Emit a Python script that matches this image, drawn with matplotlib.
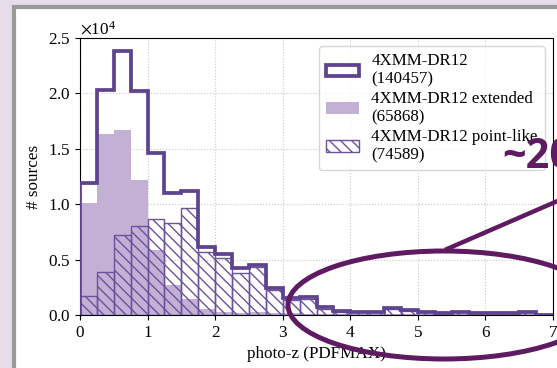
import numpy as np
import matplotlib
matplotlib.use("Agg")
import matplotlib.pyplot as plt
from matplotlib.patches import Ellipse, Rectangle
from matplotlib.lines import Line2D

# photo-z bins (width 0.25) and counts per bin
edges = np.arange(0, 7.01, 0.25)
total = [11900, 20300, 23800, 20200, 14600, 11000, 11200, 6100, 5500, 4200, 4500, 2450, 1550, 1650,
         700, 350, 300, 300, 600, 450, 300, 200, 300, 200, 200, 200, 300, 0]
extended = [10100, 16300, 16700, 12200, 5900, 2750, 1450, 500, 300, 200, 300, 200, 150, 100,
            100, 50, 50, 50, 100, 50, 50, 50, 50, 50, 50, 50, 50, 0]
pointlike = [1700, 3900, 7200, 8000, 8700, 8300, 9700, 5700, 5100, 3800, 4300, 2300, 1350, 1450,
             550, 250, 250, 250, 500, 400, 250, 150, 250, 150, 150, 150, 250, 0]
labels = ['4XMM-DR12\n(140457)', '4XMM-DR12 extended\n(65868)', '4XMM-DR12 point-like\n(74589)']

DARK = '#5e4490'; LIGHT = '#c3b1d5'; HATCH = '#6b529c'; ANNOT = '#5f1b61'

plt.rcParams['font.family'] = ['Liberation Serif', 'DejaVu Serif']
plt.rcParams['mathtext.fontset'] = 'stix'
plt.rcParams['font.size'] = 12.3
plt.rcParams['hatch.linewidth'] = 1.0

W, H = 557, 368
fig = plt.figure(figsize=(W / 100, H / 100), dpi=100, facecolor='#e6dcea')
fig.add_artist(Rectangle((14 / W, -0.2), 1.2, 0.982 + 0.2, transform=fig.transFigure,
                         facecolor='white', edgecolor='#9a9a9a', lw=3, zorder=-5))
ax = fig.add_axes([80 / W, 1 - 315 / H, 473 / W, 277 / H])

centers = (edges[:-1] + edges[1:]) / 2
ax.hist(centers, bins=edges, weights=extended, color=LIGHT, label=labels[1], zorder=2)
ax.hist(centers, bins=edges, weights=pointlike, facecolor='none', edgecolor=HATCH, hatch='\\\\\\',
        lw=1.0, label=labels[2], zorder=3)
ax.hist(centers, bins=edges, weights=total, histtype='step', color=DARK, lw=2.7, label=labels[0], zorder=4)

ax.set_xlim(0, 7); ax.set_ylim(0, 25000)
ax.set_yticks(np.arange(0, 25001, 5000))
ax.ticklabel_format(axis='y', style='sci', scilimits=(0, 0), useMathText=True)
ax.grid(True, ls=':', color='#c8c8c8', lw=0.8)
ax.set_axisbelow(True)
ax.set_xlabel('photo-z (PDFMAX)')
ax.set_ylabel('# sources')

h, l = ax.get_legend_handles_labels()
hd = dict(zip(l, h))
ax.legend([hd[x] for x in labels], labels, loc='upper right', fontsize=12.2,
          labelspacing=0.2, handletextpad=0.7, borderpad=0.4)

# annotation overlay
fig.add_artist(Ellipse((444 / W, 1 - 305 / H), 312 / W, 108 / H, transform=fig.transFigure,
                       fill=False, edgecolor=ANNOT, lw=3.6, zorder=10))
fig.add_artist(Line2D([447 / W, 1.03], [1 - 249 / H, 1 - 194 / H], transform=fig.transFigure,
                      color=ANNOT, lw=3.2, zorder=10))
fig.text(502 / W, 1 - 168 / H, '~20%', color=ANNOT, fontsize=30, fontweight='bold',
         family=['Open Sans', 'DejaVu Sans'], va='baseline', ha='left', zorder=11)

fig.savefig('out.png', dpi=100, facecolor=fig.get_facecolor())
